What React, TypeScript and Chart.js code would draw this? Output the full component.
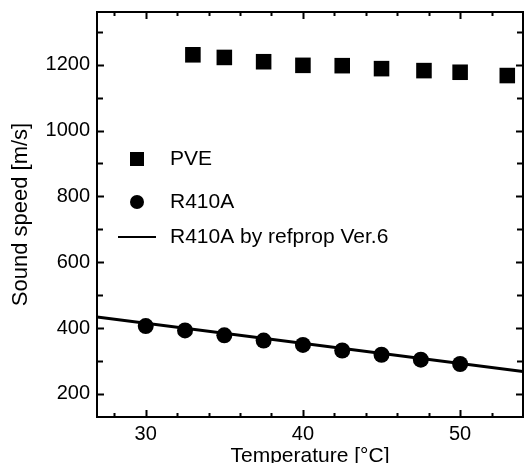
import { useEffect, useRef } from 'react';
import { Chart, registerables } from 'chart.js';

Chart.register(...registerables);

// ---- data ----
const pveTemps = [33, 35, 37.5, 40, 42.5, 45, 47.7, 50, 53];
const pveSpeeds = [1230, 1222, 1209, 1198, 1197, 1188, 1182, 1177, 1167];

const r410aTemps = [30, 32.5, 35, 37.5, 40, 42.5, 45, 47.5, 50];
const r410aSpeeds = [406, 393, 378, 362, 349, 332, 319, 304, 291];

const refpropTemps = [26.9, 54];
const refpropSpeeds = [434, 268];

const xMajorTicks = [30, 40, 50];
const xMinorTicks = [28, 32, 34, 36, 38, 42, 44, 46, 48, 52];
const yMajorTicks = [200, 400, 600, 800, 1000, 1200];
const yMinorTicks = [300, 500, 700, 900, 1100, 1300];

const seriesLabels = ['PVE', 'R410A', 'R410A by refprop Ver.6'];

const FONT = "'Liberation Sans', Arial, Helvetica, sans-serif";
const INK = '#000';

const framePlugin = {
  id: 'frameTicks',
  afterDatasetsDraw(chart: any) {
    const { ctx, chartArea, scales } = chart;
    const { left, right, top, bottom } = chartArea;
    const x = scales.x;
    const y = scales.y;
    ctx.save();
    ctx.strokeStyle = INK;
    ctx.lineWidth = 2;
    ctx.strokeRect(left, top, right - left, bottom - top);
    ctx.beginPath();
    const xt = (vals: number[], len: number) => {
      vals.forEach((v) => {
        const px = Math.round(x.getPixelForValue(v)) + 0.5;
        ctx.moveTo(px, bottom);
        ctx.lineTo(px, bottom - len);
        ctx.moveTo(px, top);
        ctx.lineTo(px, top + len);
      });
    };
    const yt = (vals: number[], len: number) => {
      vals.forEach((v) => {
        const py = Math.round(y.getPixelForValue(v)) + 0.5;
        ctx.moveTo(left, py);
        ctx.lineTo(left + len, py);
        ctx.moveTo(right, py);
        ctx.lineTo(right - len, py);
      });
    };
    xt(xMajorTicks, 7);
    xt(xMinorTicks, 4);
    yt(yMajorTicks, 7);
    yt(yMinorTicks, 6);
    ctx.stroke();
    ctx.restore();
  },
};

const legendPlugin = {
  id: 'innerLegend',
  afterDraw(chart: any) {
    const { ctx, chartArea } = chart;
    const symX = chartArea.left + 40;
    const textX = chartArea.left + 73;
    const rows = [chartArea.top + 147, chartArea.top + 190, chartArea.top + 225];
    ctx.save();
    ctx.fillStyle = INK;
    ctx.strokeStyle = INK;
    ctx.font = `21px ${FONT}`;
    ctx.textBaseline = 'middle';
    ctx.textAlign = 'left';
    chart.data.datasets.forEach((ds: any, i: number) => {
      const yy = rows[i];
      if (i === 0) {
        ctx.fillRect(symX - 7, yy - 7, 14, 14);
      } else if (i === 1) {
        ctx.beginPath();
        ctx.arc(symX, yy, 7, 0, Math.PI * 2);
        ctx.fill();
      } else {
        ctx.lineWidth = 2;
        ctx.beginPath();
        ctx.moveTo(symX - 19, yy);
        ctx.lineTo(symX + 19, yy);
        ctx.stroke();
      }
      ctx.fillText(ds.label, textX, yy);
    });
    ctx.restore();
  },
};

export default function App() {
  const canvasRef = useRef<HTMLCanvasElement | null>(null);

  useEffect(() => {
    if (!canvasRef.current) return;
    const chart = new Chart(canvasRef.current, {
      type: 'scatter',
      data: {
        datasets: [
          {
            label: seriesLabels[0],
            data: pveTemps.map((t, i) => ({ x: t, y: pveSpeeds[i] })),
            pointStyle: 'rect',
            pointRadius: 11,
            pointBackgroundColor: INK,
            pointBorderWidth: 0,
            showLine: false,
          },
          {
            label: seriesLabels[1],
            data: r410aTemps.map((t, i) => ({ x: t, y: r410aSpeeds[i] })),
            pointStyle: 'circle',
            pointRadius: 8,
            pointBackgroundColor: INK,
            pointBorderWidth: 0,
            showLine: false,
          },
          {
            label: seriesLabels[2],
            data: refpropTemps.map((t, i) => ({ x: t, y: refpropSpeeds[i] })),
            showLine: true,
            borderColor: INK,
            borderWidth: 3,
            pointRadius: 0,
          },
        ],
      },
      options: {
        animation: false,
        responsive: false,
        layout: { autoPadding: false, padding: { top: 12, right: 3, left: 0, bottom: 0 } },
        plugins: {
          legend: { display: false },
          tooltip: { enabled: false },
        },
        scales: {
          x: {
            type: 'linear',
            min: 26.9,
            max: 54,
            afterBuildTicks: (s: any) => {
              s.ticks = xMajorTicks.map((value) => ({ value }));
            },
            afterFit: (s: any) => {
              s.height = 46;
              s.paddingLeft = 0;
              s.paddingRight = 0;
            },
            grid: { display: false, drawTicks: false },
            border: { display: false },
            ticks: {
              color: INK,
              font: { family: FONT, size: 20 },
              padding: 5,
              maxRotation: 0,
              callback: (v: any) => String(v),
            },
            title: {
              display: true,
              text: 'Temperature [°C]',
              color: INK,
              font: { family: FONT, size: 21 },
              padding: { top: 0, bottom: -6 },
            },
          },
          y: {
            type: 'linear',
            min: 130,
            max: 1360,
            afterBuildTicks: (s: any) => {
              s.ticks = yMajorTicks.map((value) => ({ value }));
            },
            afterFit: (s: any) => {
              s.width = 97;
              s.paddingTop = 0;
              s.paddingBottom = 0;
            },
            grid: { display: false, drawTicks: false },
            border: { display: false },
            ticks: {
              color: INK,
              font: { family: FONT, size: 20 },
              padding: 7,
              callback: (v: any) => String(v),
            },
            title: {
              display: true,
              text: 'Sound speed [m/s]',
              color: INK,
              font: { family: FONT, size: 22 },
              padding: { top: 8, bottom: 0 },
            },
          },
        },
      },
      plugins: [framePlugin, legendPlugin],
    });
    return () => chart.destroy();
  }, []);

  return (
    <div style={{ position: 'absolute', left: 0, top: 0, width: 526, height: 463, background: '#fff' }}>
      <canvas ref={canvasRef} width={526} height={463} style={{ display: 'block' }} />
    </div>
  );
}
